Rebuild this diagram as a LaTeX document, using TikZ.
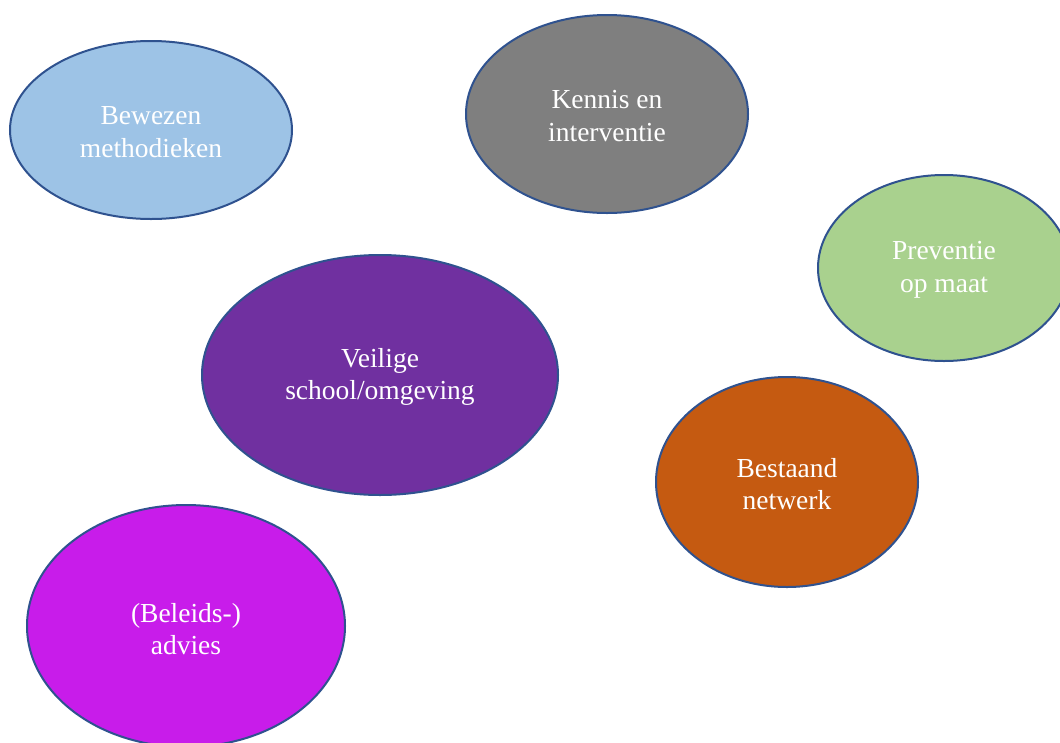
\documentclass[tikz,border=0pt]{standalone}
\usepackage{fontspec}
\setmainfont{Liberation Serif}
\usetikzlibrary{shapes.geometric}
\definecolor{edge}{HTML}{2F528F}
\definecolor{cblue}{HTML}{9DC3E6}
\definecolor{cgray}{HTML}{7F7F7F}
\definecolor{cgreen}{HTML}{A9D18E}
\definecolor{cpurple}{HTML}{7030A0}
\definecolor{corange}{HTML}{C55A11}
\definecolor{cmagenta}{HTML}{C81CEA}
\tikzset{
  blob/.style={draw=edge, line width=2pt, ellipse, inner sep=0pt},
  blobtext/.style={text=white, inner sep=0pt,
    font=\fontsize{27.5}{32.5}\selectfont, align=center},
}
\begin{document}
\begin{tikzpicture}[x=1pt,y=-1pt]
\useasboundingbox (0,0) rectangle (1060,742);
\begin{scope}
\clip (0,0) rectangle (1060,742);
\node[blob, fill=cblue, minimum width=282pt, minimum height=178pt] (bew) at (151,130) {};
\node[blob, fill=cgray, minimum width=282pt, minimum height=198pt] (ken) at (607,114) {};
\node[blob, fill=cgreen, minimum width=252pt, minimum height=186pt] (pre) at (944,268) {};
\node[blob, fill=cpurple, minimum width=356pt, minimum height=240pt] (vei) at (380,375) {};
\node[blob, fill=corange, minimum width=262pt, minimum height=210pt] (bes) at (787,482) {};
\node[blob, fill=cmagenta, minimum width=318pt, minimum height=242pt] (bel) at (186,626) {};
\end{scope}
\node[blobtext] (bewt) at ([yshift=-2pt]bew.center) {Bewezen\\methodieken};
\node[blobtext] (kent) at ([yshift=-2pt]ken.center) {Kennis en\\interventie};
\node[blobtext] (pret) at ([yshift=-2pt]pre.center) {Preventie\\op maat};
\node[blobtext] (veit) at ([yshift=-2pt]vei.center) {Veilige\\school/omgeving};
\node[blobtext] (best) at ([yshift=-2pt]bes.center) {Bestaand\\netwerk};
\node[blobtext] (belt) at ([yshift=-3pt]bel.center) {(Beleids-)\\advies};
\end{tikzpicture}
\end{document}
